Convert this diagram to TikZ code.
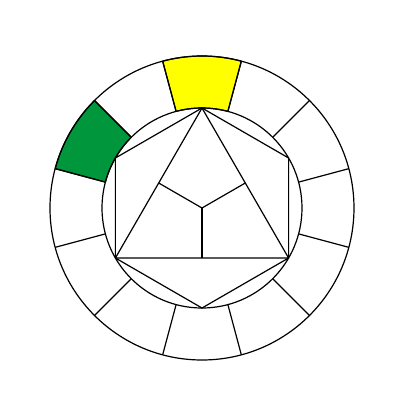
\documentclass[tikz,border=0pt]{standalone}
\usepackage{tikz}
\usetikzlibrary{positioning, calc}
\tikzstyle{Line} = [
    black,
    line width = 1.2pt,
    line join = round
]
\definecolor{ittenyellow}{RGB}{255,255,0}
\definecolor{ittengreen}{RGB}{0,150,60}

\begin{document}
\begin{tikzpicture}[
x = 1pt, y = 1pt,
field/.style={
    Line,
    fill = #1
    }
]
\useasboundingbox (-202,-192) rectangle (198,208);

\coordinate (c) at (0,0);

% coloured fields of the ring
\draw[field=ittenyellow] (75:100) arc (75:105:100) -- (105:152) arc (105:75:152) -- cycle;
\draw[field=ittengreen] (135:100) arc (135:165:100) -- (165:152) arc (165:135:152) -- cycle;

\draw[Line] (c) circle (152);
\draw[Line] (c) circle (100);

\foreach \a in {15,45,...,345}
    \draw[Line] (\a:100) -- (\a:152);

% hexagon
\foreach \i in {1,...,6}
    \coordinate (\i) at ({30+60*\i}:100);
\draw[Line] (1) -- (2) -- (3) -- (4) -- (5) -- (6) -- cycle;

% triangle
\draw[Line] (1) -- (3) -- (5) -- cycle;

\coordinate (m1) at ($(1)!0.5!(3)$);
\coordinate (m2) at ($(3)!0.5!(5)$);
\coordinate (m3) at ($(5)!0.5!(1)$);
\draw[Line] (c) -- (m1);
\draw[Line] (c) -- (m2);
\draw[Line] (c) -- (m3);

\end{tikzpicture}
\end{document}
